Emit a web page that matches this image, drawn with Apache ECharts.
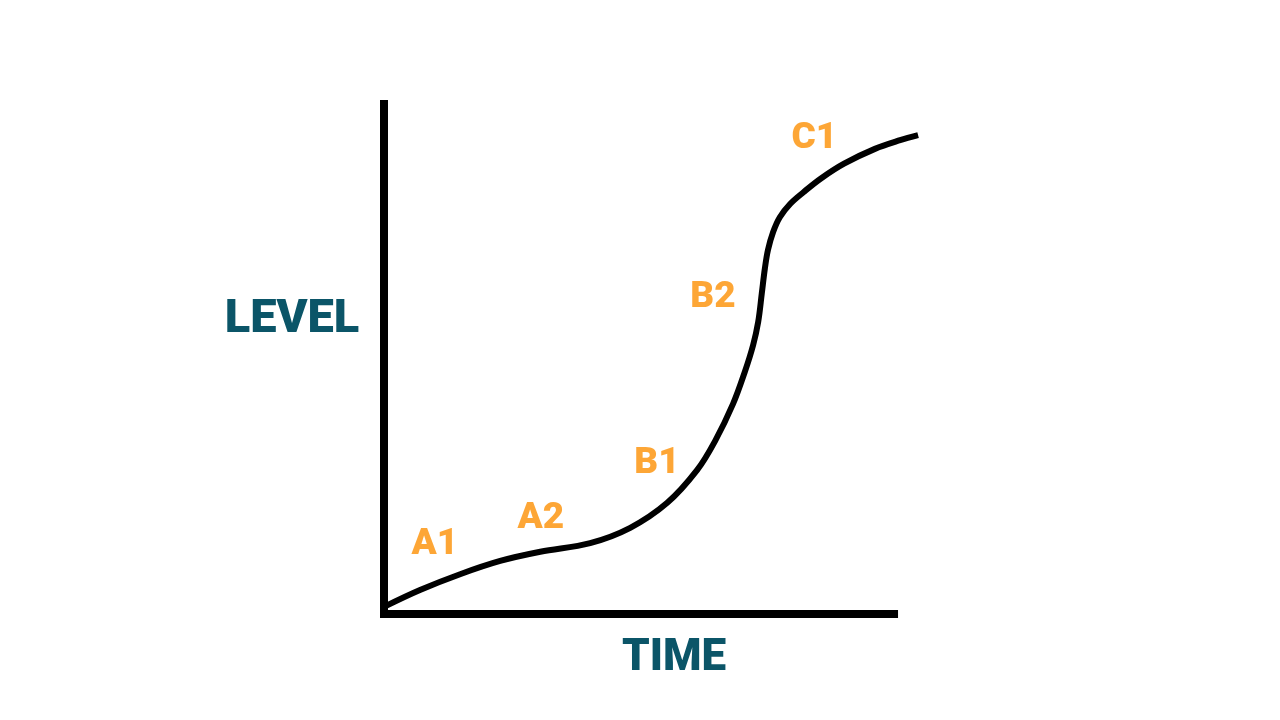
<!DOCTYPE html>
<html>
<head>
<meta charset="utf-8">
<script src="https://cdn.jsdelivr.net/npm/echarts@6/dist/echarts.min.js"></script>
<style>html,body{margin:0;padding:0;background:#fff}#c{width:1280px;height:720px}</style>
</head>
<body>
<div id="c"></div>
<script>
// Curve: [time, level]
const curvePoints = [
  [0.0, 1.4], [7.0, 4.7], [14.8, 7.8], [22.6, 10.4], [30.4, 12.2], [40.1, 13.9],
  [47.9, 16.9], [55.1, 21.8], [60.9, 28.2], [64.4, 33.9], [67.9, 41.2],
  [70.2, 47.5], [71.8, 52.7], [72.8, 57.3], [73.5, 62.9], [74.1, 67.8],
  [74.7, 71.4], [75.7, 74.9], [77.0, 77.8], [79.0, 80.4], [81.6, 82.7],
  [85.0, 85.4], [89.5, 88.3], [95.5, 91.2], [100.4, 92.9], [103.9, 93.9]
];
// Time axis line spans [start, end]
const timeAxisLine = [[0, 0], [100, 0]];
const stageNames = ['A1', 'A2', 'B1', 'B2', 'C1'];
const stagePositions = [[9.9, 13.5], [30.5, 18.6], [53.1, 29.4], [64.0, 62.0], [83.7, 93.1]];
const xAxisTitle = 'TIME';
const yAxisTitle = 'LEVEL';

const ORANGE = '#FC9004';
const TEAL = '#0B5568';
const FONT = 'Roboto, "DejaVu Sans", sans-serif';

const chart = echarts.init(document.getElementById('c'));
chart.setOption({
  animation: false,
  backgroundColor: '#ffffff',
  title: [
    { text: yAxisTitle, left: 287, top: 315, textAlign: 'center', textVerticalAlign: 'middle',
      textStyle: { color: TEAL, fontSize: 47, fontWeight: 900, fontFamily: FONT } },
    { text: xAxisTitle, left: 669, top: 654, textAlign: 'center', textVerticalAlign: 'middle',
      textStyle: { color: TEAL, fontSize: 44, fontWeight: 900, fontFamily: FONT } }
  ],
  grid: { left: 384, top: 104, width: 534.6, height: 510 },
  xAxis: {
    type: 'value', min: 0, max: 104,
    axisLine: { show: false },
    axisTick: { show: false }, axisLabel: { show: false }, splitLine: { show: false }
  },
  yAxis: {
    type: 'value', min: 0, max: 100,
    axisLine: { show: true, onZero: false, lineStyle: { color: '#000', width: 8, cap: 'square' } },
    axisTick: { show: false }, axisLabel: { show: false }, splitLine: { show: false }
  },
  series: [
    {
      type: 'line', data: timeAxisLine, clip: false, showSymbol: false, silent: true,
      lineStyle: { color: '#000', width: 8, cap: 'butt' }, z: 2
    },
    {
      type: 'line', data: curvePoints, smooth: 0.35, clip: false, showSymbol: false,
      lineStyle: { color: '#000', width: 6 }, z: 3
    },
    {
      type: 'scatter', symbolSize: 0, clip: false,
      data: stageNames.map((n, i) => ({ name: n, value: stagePositions[i] })),
      label: {
        show: true, position: 'inside', formatter: p => p.name,
        color: ORANGE, fontSize: 37, fontWeight: 900, fontFamily: FONT
      }
    }
  ]
});
</script>
</body>
</html>
